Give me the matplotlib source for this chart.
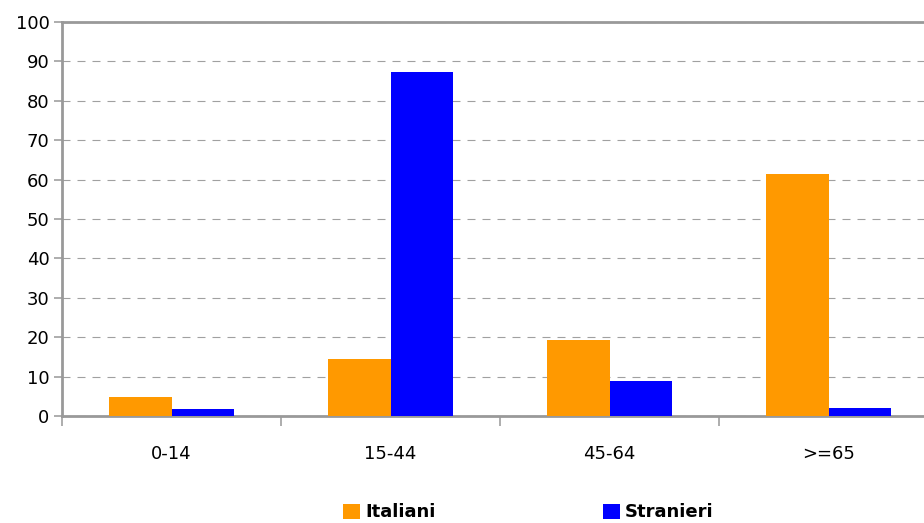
import matplotlib.pyplot as plt
import numpy as np

fasce = ["0-14", "15-44", "45-64", ">=65"]
italiani = [4.9, 14.4, 19.4, 61.4]
stranieri = [1.9, 87.3, 9.0, 2.1]

plt.rcParams["font.family"] = "DejaVu Sans"

fig = plt.figure(figsize=(9.24, 5.23), dpi=100)
# right edge of the plot area runs past the figure border
ax = fig.add_axes([62 / 924, 1 - 416 / 523, 876 / 924, 394 / 523])

x = np.arange(len(fasce))
w = 0.285
ax.bar(x - w / 2, italiani, w, color="#ff9900", label="Italiani", zorder=3)
ax.bar(x + w / 2, stranieri, w, color="#0000ff", label="Stranieri", zorder=3)

ax.set_xlim(-0.5, 3.5)
ax.set_ylim(0, 100)
ax.set_yticks(range(0, 101, 10))
ax.yaxis.grid(True, linestyle=(0, (7.2, 6.3)), color="#a0a0a0", linewidth=0.8, zorder=0)
ax.tick_params(axis="y", labelsize=13, length=6, width=1.2, color="#a0a0a0", pad=3)

ax.set_xticks(x)
ax.set_xticklabels(fasce)
ax.set_xticks(np.arange(-0.5, 4, 1), minor=True)
ax.tick_params(axis="x", which="major", length=0, labelsize=13, pad=21)
ax.tick_params(axis="x", which="minor", length=7, width=1.2, color="#a0a0a0")

for s in ax.spines.values():
    s.set_color("#999999")
    s.set_linewidth(2)

fig.legend(loc="lower center", bbox_to_anchor=(0.572, -0.028), ncol=2, frameon=False,
           prop={"weight": "bold", "size": 13}, handlelength=0.9, handleheight=0.9,
           handletextpad=0.3, columnspacing=9.3)

fig.savefig("out.png", dpi=100)
